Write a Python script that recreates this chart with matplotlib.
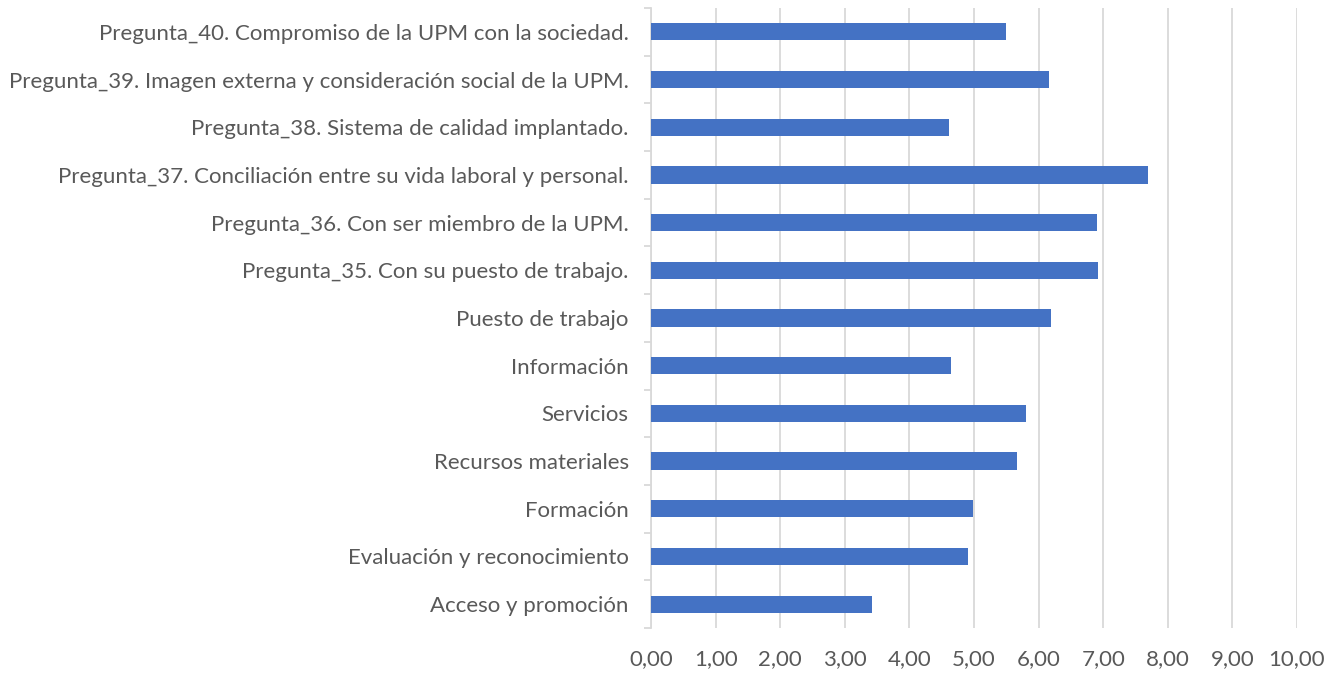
import matplotlib
matplotlib.use("Agg")
from matplotlib import pyplot as plt
import numpy as np

# categories from bottom to top
categorias = [
    "Acceso y promoción",
    "Evaluación y reconocimiento",
    "Formación",
    "Recursos materiales",
    "Servicios",
    "Información",
    "Puesto de trabajo",
    "Pregunta_35. Con su puesto de trabajo.",
    "Pregunta_36. Con ser miembro de la UPM.",
    "Pregunta_37. Conciliación entre su vida laboral y personal.",
    "Pregunta_38. Sistema de calidad implantado.",
    "Pregunta_39. Imagen externa y consideración social de la UPM.",
    "Pregunta_40. Compromiso de la UPM con la sociedad.",
]
valores = [3.42, 4.91, 4.99, 5.66, 5.81, 4.65, 6.19, 6.92, 6.90, 7.70, 4.62, 6.16, 5.49]
x_ticks = np.arange(0, 11)
x_labels = ["%d,00" % t for t in x_ticks]

plt.rcParams['font.family'] = ['Lato', 'DejaVu Sans']
texto = '#595959'
rejilla = '#d9d9d9'

fig = plt.figure(figsize=(13.39, 6.76), dpi=100)
ax = fig.add_axes([651 / 1339, 1 - 628 / 676, (1297 - 651) / 1339, 620 / 676])

y = np.arange(len(categorias))
ax.barh(y, valores, height=0.36, color='#4472C4', zorder=3)

ax.set_xlim(0, 10)
ax.set_ylim(-0.5, len(categorias) - 0.5)
ax.set_xticks(x_ticks)
ax.set_xticklabels(x_labels, fontsize=16, color=texto)
ax.set_yticks(y)
ax.set_yticklabels(categorias, fontsize=16, color=texto)
ax.xaxis.grid(True, color=rejilla, linewidth=1.3, zorder=0)

# category boundary ticks on the left axis
ax.set_yticks(np.arange(-0.5, len(categorias)), minor=True)
ax.tick_params(axis='y', which='major', length=0, pad=16)
ax.tick_params(axis='y', which='minor', length=5, color=rejilla, width=1.3)
ax.tick_params(axis='x', which='major', length=0, pad=15)

for lado in ['top', 'right', 'bottom']:
    ax.spines[lado].set_visible(False)
ax.spines['left'].set_color(rejilla)
ax.spines['left'].set_linewidth(1.3)

fig.savefig("out.png", dpi=100)
